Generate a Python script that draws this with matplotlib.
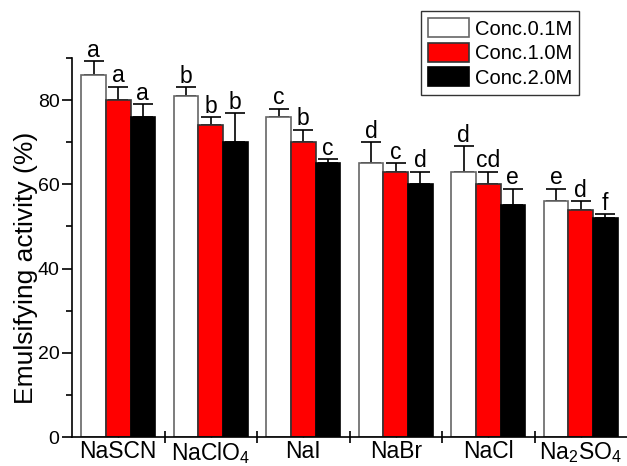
import matplotlib
matplotlib.use("Agg")
import matplotlib.pyplot as plt
import numpy as np
from matplotlib.ticker import FixedLocator

plt.rcParams['font.family'] = ['Liberation Sans', 'DejaVu Sans']
plt.rcParams['mathtext.fontset'] = 'custom'
plt.rcParams['mathtext.rm'] = 'Liberation Sans'
plt.rcParams['mathtext.default'] = 'regular'

salts = ['NaSCN', 'NaClO$_4$', 'NaI', 'NaBr', 'NaCl', 'Na$_2$SO$_4$']
series_names = ['Conc.0.1M', 'Conc.1.0M', 'Conc.2.0M']
conc_01 = [86, 81, 76, 65, 63, 56]
conc_10 = [80, 74, 70, 63, 60, 54]
conc_20 = [76, 70, 65, 60, 55, 52]
err_01 = [3.2, 2.0, 2.0, 5.0, 6.0, 3.0]
err_10 = [3.2, 2.0, 3.0, 2.0, 3.0, 2.0]
err_20 = [3.0, 7.0, 1.0, 3.0, 4.0, 1.0]
letters_01 = ['a', 'b', 'c', 'd', 'd', 'e']
letters_10 = ['a', 'b', 'b', 'c', 'cd', 'd']
letters_20 = ['a', 'b', 'c', 'd', 'e', 'f']

values = [conc_01, conc_10, conc_20]
errors = [err_01, err_10, err_20]
letters = [letters_01, letters_10, letters_20]
facecolors = ['white', '#ff0000', 'black']
edgecolors = ['#666666', '#333333', 'black']

fig = plt.figure(figsize=(6.27, 4.66), dpi=100)
ax = fig.add_axes([72/627, 29/466, 1 - 72/627, (437-58)/466])

x = np.arange(len(salts))
w = 0.265
for i in range(3):
    pos = x + (i - 1) * w
    ax.bar(pos, values[i], width=w, color=facecolors[i], edgecolor=edgecolors[i],
           linewidth=1.2, label=series_names[i], zorder=2)
    ax.errorbar(pos, values[i], yerr=[np.zeros(len(salts)), errors[i]], fmt='none',
                ecolor='black', elinewidth=1.2, capsize=7.5, capthick=1.2, zorder=1)
    for p, v, e, t in zip(pos, values[i], errors[i], letters[i]):
        ax.text(p, v + e + 1.0, t, ha='center', va='baseline', fontsize=16.5)

ax.set_xlim(-0.5, 5.5)
ax.set_ylim(0, 90)
ax.spines['top'].set_visible(False)
ax.spines['right'].set_visible(False)
for s in ['left', 'bottom']:
    ax.spines[s].set_linewidth(1.2)

ax.set_yticks([0, 20, 40, 60, 80])
ax.yaxis.set_minor_locator(FixedLocator([10, 30, 50, 70, 90]))
ax.tick_params(axis='y', which='major', direction='out', length=7, width=1.2,
               labelsize=14, pad=2)
ax.tick_params(axis='y', which='minor', direction='out', length=4, width=1.2)

ax.set_xticks(np.arange(0.5, 5.0, 1.0))
ax.set_xticklabels([])
ax.set_xticks(x, minor=True)
ax.set_xticklabels(salts, minor=True, fontsize=16.5)
ax.tick_params(axis='x', which='major', direction='inout', length=8, width=1.2)
ax.tick_params(axis='x', which='minor', direction='in', length=3, width=1.0, pad=2)

ax.set_ylabel('Emulsifying activity (%)', fontsize=19, va='center')
ax.yaxis.set_label_coords((26 - 72) / 555, (437 - 268) / 379)

leg = ax.legend(loc='upper right', fontsize=14.5, frameon=True,
                fancybox=False, edgecolor='black', handlelength=2.0,
                handleheight=1.1, labelspacing=0.2, borderpad=0.35,
                handletextpad=0.3, borderaxespad=0)
leg.get_frame().set_linewidth(1.0)
leg.set_bbox_to_anchor((579/627, 1 - 11/466), transform=fig.transFigure)

fig.savefig('out.png', dpi=100)
